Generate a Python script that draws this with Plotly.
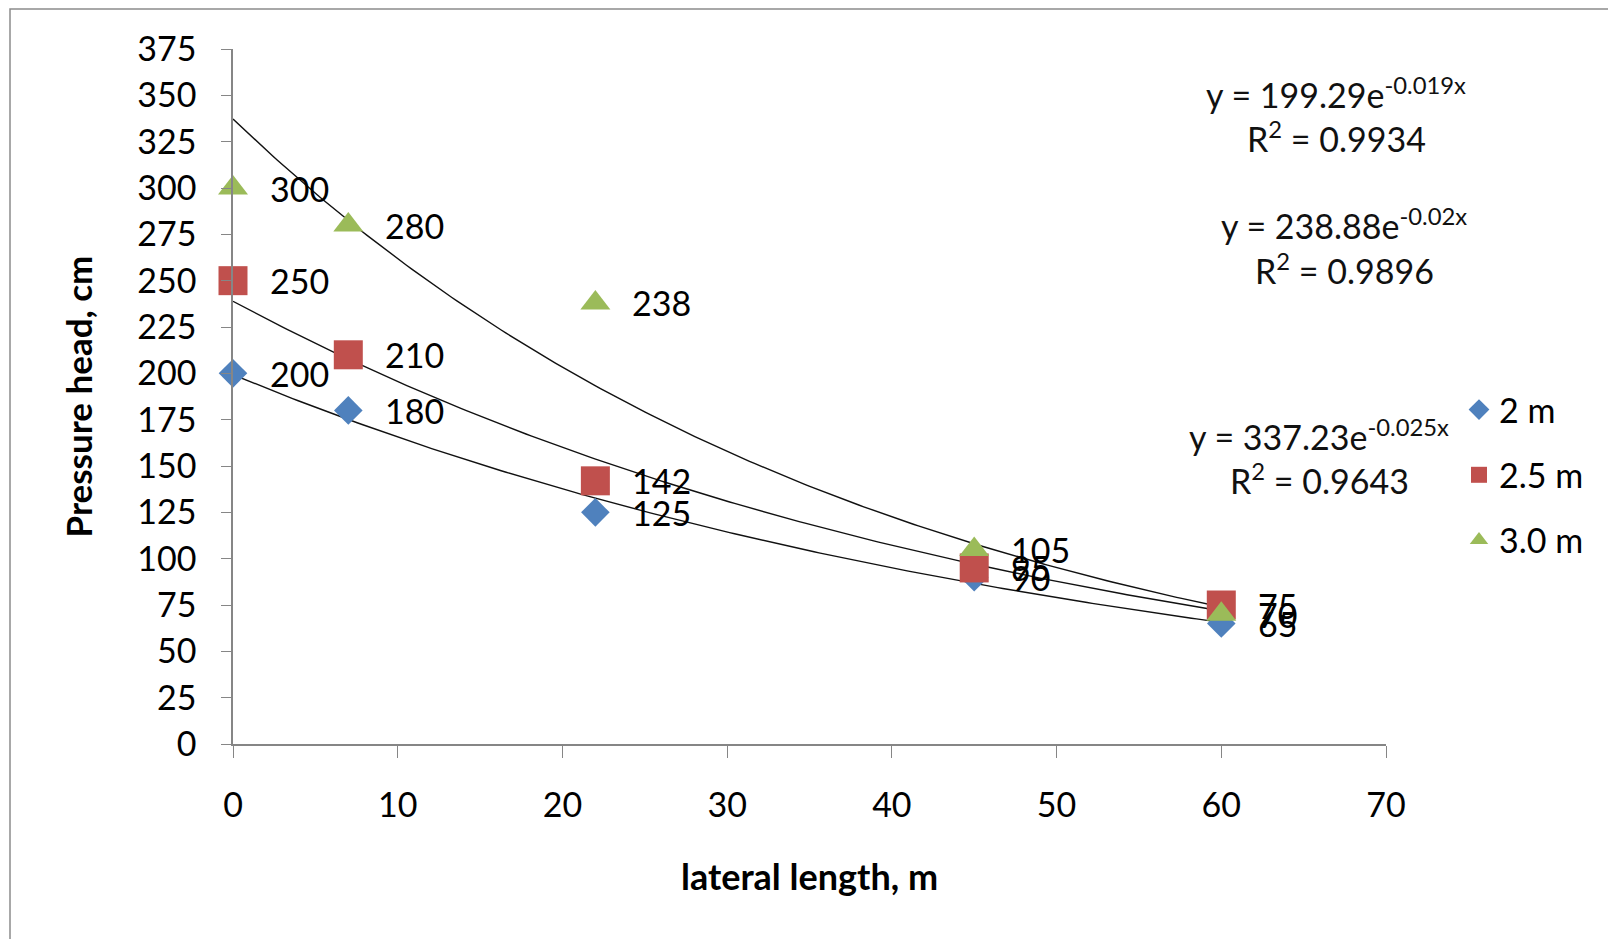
import numpy as np
import plotly.graph_objects as go

# ---- data ----
lateral_length = [0, 7, 22, 45, 60]
series_names = ["2 m", "2.5 m", "3.0 m"]
head_2m = [200, 180, 125, 90, 65]
head_2_5m = [250, 210, 142, 95, 75]
head_3m = [300, 280, 238, 105, 70]
equations = ["y = 199.29e<sup>-0.019x</sup>", "y = 238.88e<sup>-0.02x</sup>", "y = 337.23e<sup>-0.025x</sup>"]
r_squared = ["R<sup>2</sup> = 0.9934", "R<sup>2</sup> = 0.9896", "R<sup>2</sup> = 0.9643"]
y_ticks = list(range(0, 376, 25))
x_ticks = list(range(0, 71, 10))

colors = ["#4F81BD", "#C0504D", "#9BBB59"]
symbols = ["diamond", "square", "triangle-up"]
sizes = [22, 29, 26]

W, H = 1616, 939
OFF = 8  # page body margin
L, R, T, B = 233 - OFF, 1386 - OFF, 49 - OFF, 744 - OFF


def px_x(p):
    return (p - OFF - L) / (R - L)


def px_y(p):
    return (B - (p - OFF)) / (B - T)


FONT = "Lato, Carlito, Calibri, sans-serif"
FS = 34
fig = go.Figure()

all_series = [head_2m, head_2_5m, head_3m]

# trendlines (exponential least-squares fit, as in a spreadsheet)
xx = np.linspace(0, 60, 200)
for ys in all_series:
    b, a = np.polyfit(lateral_length, np.log(ys), 1)
    fig.add_trace(go.Scatter(x=xx, y=np.exp(a) * np.exp(b * xx), mode="lines",
                             line=dict(color="#111", width=1.4), showlegend=False,
                             hoverinfo="skip"))

for i, ys in enumerate(all_series):
    fig.add_trace(go.Scatter(
        x=lateral_length, y=ys, mode="markers", name=series_names[i],
        marker=dict(symbol=symbols[i], size=sizes[i], color=colors[i]),
        cliponaxis=False, legendgroup=series_names[i]))

# data labels
for i, ys in enumerate(all_series):
    for xv, yv in zip(lateral_length, ys):
        fig.add_annotation(x=xv, y=yv, text=str(yv), showarrow=False,
                           xanchor="left", yanchor="middle", xshift=35,
                           font=dict(family=FONT, size=FS, color="black"))

# equation labels
eq_pos = [(1336, 93, 137), (1344, 224, 269), (1319, 435, 479)]
for i, (cx, ey, ry) in enumerate(eq_pos):
    fig.add_annotation(xref="paper", yref="paper", x=px_x(cx), y=px_y(ey),
                       text=equations[i], showarrow=False, xanchor="center", yanchor="middle",
                       font=dict(family=FONT, size=FS, color="#111"))
    fig.add_annotation(xref="paper", yref="paper", x=px_x(cx), y=px_y(ry),
                       text=r_squared[i], showarrow=False, xanchor="center", yanchor="middle",
                       font=dict(family=FONT, size=FS, color="#111"))

# outer chart border
fig.add_shape(type="rect", xref="paper", yref="paper",
              x0=px_x(10), x1=px_x(1660), y0=px_y(9), y1=px_y(990),
              line=dict(color="#8c8c8c", width=1.5), fillcolor="rgba(0,0,0,0)", layer="below")

fig.update_layout(
    width=W, height=H,
    margin=dict(l=L, r=W - R, t=T, b=H - B, pad=0),
    paper_bgcolor="white", plot_bgcolor="white",
    font=dict(family=FONT, size=FS, color="black"),
    showlegend=True,
    legend=dict(x=px_x(1459), y=px_y(381), xanchor="left", yanchor="top",
                font=dict(family=FONT, size=FS, color="black"),
                tracegroupgap=18, traceorder="grouped", bgcolor="rgba(0,0,0,0)",
                itemsizing="trace", itemwidth=30),
    xaxis=dict(range=[0, 70], tickvals=x_ticks, showgrid=False, zeroline=False,
               showline=True, linecolor="#868686", linewidth=1.5,
               ticks="outside", ticklen=12, tickcolor="#868686", ticklabelstandoff=18,
               tickfont=dict(family=FONT, size=FS),
               title=dict(text="<b>lateral length, m</b>", standoff=42,
                          font=dict(family=FONT, size=36))),
    yaxis=dict(range=[0, 375], tickvals=y_ticks, showgrid=False, zeroline=False,
               showline=True, linecolor="#868686", linewidth=1.5,
               ticks="outside", ticklen=10, tickcolor="#868686", ticklabelstandoff=18,
               tickfont=dict(family=FONT, size=FS),
               title=dict(text="<b>Pressure head, cm</b>", standoff=34,
                          font=dict(family=FONT, size=35))),
)

fig.write_html("out.html")
